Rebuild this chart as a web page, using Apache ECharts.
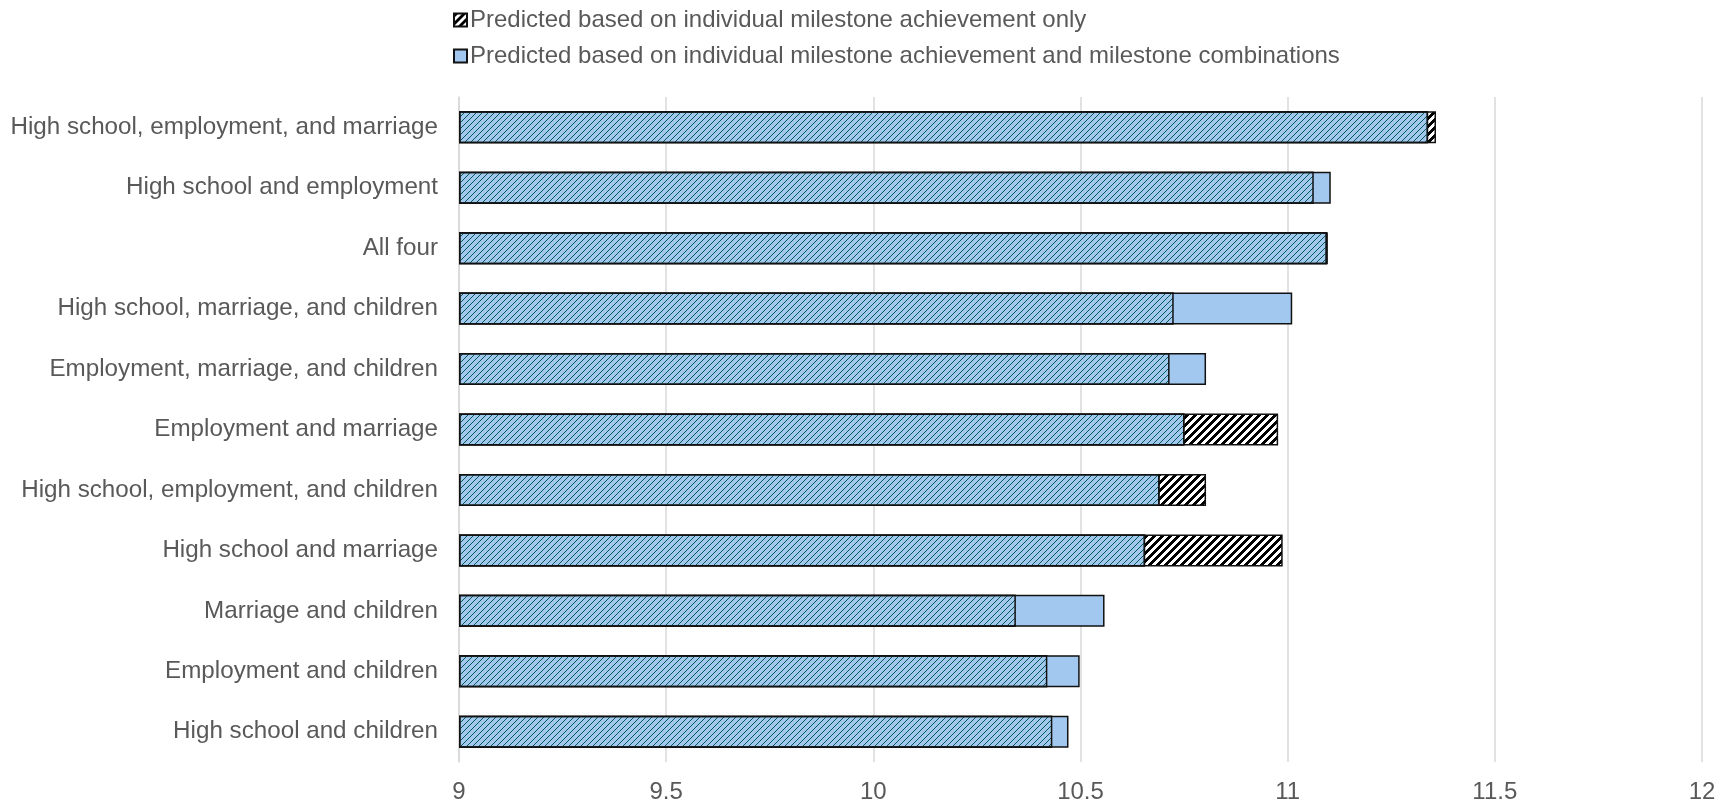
<!DOCTYPE html>
<html>
<head>
<meta charset="utf-8">
<script src="https://cdn.jsdelivr.net/npm/echarts@6/dist/echarts.min.js"></script>
<style>
html,body{margin:0;padding:0;background:#fff;}
#chart{width:1730px;height:807px;}
</style>
</head>
<body>
<div id="chart"></div>
<script>
var categories = [
  'High school, employment, and marriage',
  'High school and employment',
  'All four',
  'High school, marriage, and children',
  'Employment, marriage, and children',
  'Employment and marriage',
  'High school, employment, and children',
  'High school and marriage',
  'Marriage and children',
  'Employment and children',
  'High school and children'
];
var individualOnly = [11.358, 11.063, 11.097, 10.725, 10.715, 10.977, 10.803, 10.988, 10.344, 10.420, 10.432];
var withCombinations = [11.339, 11.104, 11.095, 11.011, 10.803, 10.751, 10.691, 10.656, 10.558, 10.498, 10.471];
var seriesNames = [
  'Predicted based on individual milestone achievement only',
  'Predicted based on individual milestone achievement and milestone combinations'
];
var xMin = 9, xMax = 12, xStep = 0.5;

// shared part of both predictions (where the bars overlap)
var overlap = individualOnly.map(function (v, i) { return Math.min(v, withCombinations[i]); });

function makeHatch() {
  var c = document.createElement('canvas');
  c.width = 8; c.height = 8;
  var ctx = c.getContext('2d');
  ctx.fillStyle = '#ffffff';
  ctx.fillRect(0, 0, 8, 8);
  ctx.fillStyle = '#000000';
  for (var x = 0; x < 8; x++) for (var y = 0; y < 8; y++) {
    if ((x + y) % 8 < 4) ctx.fillRect(x, y, 1, 1);
  }
  return c;
}
function makeDotted() {
  var c = document.createElement('canvas');
  c.width = 6; c.height = 6;
  var ctx = c.getContext('2d');
  ctx.fillStyle = '#03594e';
  for (var x = 0; x < 6; x++) for (var y = 0; y < 6; y++) {
    if ((x + y) % 6 === 0) ctx.fillRect(x, y, 1, 1);
  }
  return c;
}
var hatchPattern = { image: makeHatch(), repeat: 'repeat' };
var dottedPattern = { image: makeDotted(), repeat: 'repeat' };

var chart = echarts.init(document.getElementById('chart'), null, { renderer: 'canvas' });
var font = 'Liberation Sans, Arial, sans-serif';
chart.setOption({
  animation: false,
  backgroundColor: '#ffffff',
  legend: {
    data: seriesNames,
    orient: 'vertical',
    left: 448,
    top: 3,
    itemWidth: 13,
    itemHeight: 13,
    itemGap: 12,
    icon: 'rect',
    textStyle: { fontFamily: font, fontSize: 24, color: '#595959', padding: [0, 0, 0, -2] }
  },
  grid: { left: 459, right: 28, top: 97, bottom: 45, containLabel: false },
  xAxis: {
    type: 'value',
    min: xMin, max: xMax, interval: xStep,
    startValue: xMin,
    axisLine: { show: false },
    axisTick: { show: false },
    splitLine: { show: true, lineStyle: { color: '#d9d9d9', width: 1.5 } },
    axisLabel: { fontFamily: font, fontSize: 24, color: '#595959', margin: 18 }
  },
  yAxis: {
    type: 'category',
    data: categories,
    inverse: true,
    axisLine: { show: true, lineStyle: { color: '#d9d9d9', width: 1.5 } },
    axisTick: { show: false },
    axisLabel: { fontFamily: font, fontSize: 24.2, color: '#595959', margin: 21 }
  },
  series: [
    {
      name: seriesNames[0],
      type: 'bar',
      data: individualOnly,
      barWidth: 32,
      barGap: '-100%',
      itemStyle: { color: hatchPattern, borderColor: '#111', borderWidth: 1.5 }
    },
    {
      name: seriesNames[1],
      type: 'bar',
      data: withCombinations,
      barWidth: 32,
      barGap: '-100%',
      itemStyle: { color: '#a3c8f0', borderColor: '#111', borderWidth: 1.5 }
    },
    {
      name: 'overlap',
      type: 'bar',
      data: overlap,
      barWidth: 32,
      barGap: '-100%',
      itemStyle: { color: dottedPattern, borderColor: '#111', borderWidth: 1.5 }
    }
  ]
});
</script>
</body>
</html>
